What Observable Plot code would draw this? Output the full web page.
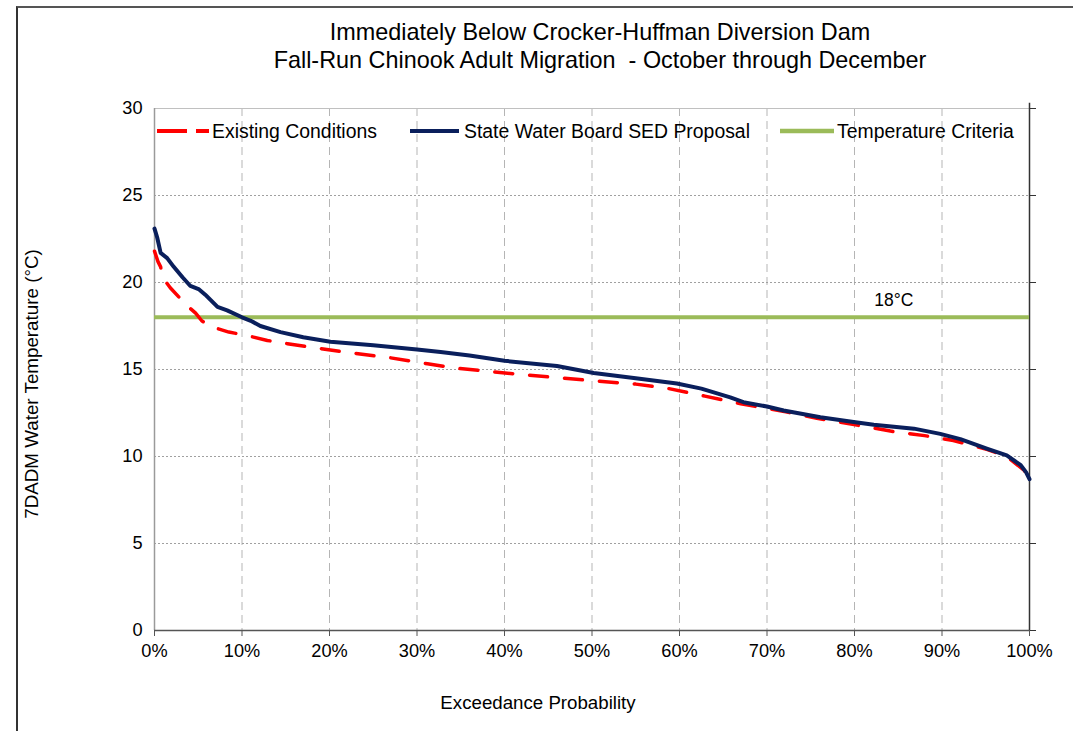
<!DOCTYPE html>
<html><head><meta charset="utf-8">
<script src="https://cdn.jsdelivr.net/npm/d3@7"></script>
<script src="https://cdn.jsdelivr.net/npm/@observablehq/plot@0.6"></script>
<style>
html,body{margin:0;padding:0;background:#fff;}
body{width:1073px;height:731px;overflow:hidden;position:relative;font-family:"Liberation Sans",Arial,sans-serif;color:#000;}
#frame{position:absolute;left:16px;top:6px;width:1100px;height:800px;border-left:2px solid #333;border-top:2px solid #555;}
#chart{position:absolute;left:0;top:0;}
.title{position:absolute;left:200px;width:800px;text-align:center;font-size:23.4px;line-height:28px;top:18px;}
.xlabel{position:absolute;left:338px;width:400px;text-align:center;top:692px;font-size:18.7px;line-height:22px;}
.ylabel{position:absolute;left:32px;top:384px;width:400px;margin-left:-200px;margin-top:-11px;text-align:center;font-size:18.8px;line-height:22px;transform:rotate(-90deg);}
.lg{position:absolute;top:121px;font-size:19.4px;line-height:20px;white-space:nowrap;}
.lg svg{position:absolute;top:0;}
</style>
</head><body>
<div id="frame"></div>
<div id="chart"></div>
<div class="title" id="title"></div>
<div class="xlabel" id="xlabel"></div>
<div class="ylabel" id="ylabel"></div>
<div id="legend"></div>
<script>
// ---- data ----
const titleLines = ["Immediately Below Crocker-Huffman Diversion Dam", "Fall-Run Chinook Adult Migration  - October through December"];
const xAxisTitle = "Exceedance Probability";
const yAxisTitle = "7DADM Water Temperature (°C)";
const xTicks = [0, 10, 20, 30, 40, 50, 60, 70, 80, 90, 100];
const yTicks = [0, 5, 10, 15, 20, 25, 30];
const seriesNames = ["Existing Conditions", "State Water Board SED Proposal", "Temperature Criteria"];

const sedProb = [0, 0.3, 0.7, 1.45, 2.2, 3.2, 4.1, 5.1, 5.8, 6.4, 7.2, 8.3, 10, 11, 12.1, 14.4, 17, 20.1, 25, 30, 32.7, 36, 40, 46, 50.2, 55, 59.7, 62.5, 65.8, 67.3, 70, 71.9, 76.1, 79.9, 82.2, 86.8, 89.8, 92.1, 95.2, 97.4, 99, 99.6, 100];
const sedTemp = [23.1, 22.6, 21.7, 21.4, 20.9, 20.3, 19.8, 19.6, 19.3, 19.0, 18.6, 18.4, 18.0, 17.8, 17.5, 17.15, 16.85, 16.6, 16.4, 16.15, 16.0, 15.8, 15.5, 15.2, 14.8, 14.5, 14.2, 13.9, 13.4, 13.12, 12.87, 12.64, 12.26, 11.98, 11.83, 11.6, 11.3, 11.0, 10.44, 10.06, 9.5, 9.1, 8.7];

const existingProb = [0, 0.4, 0.7, 0.9, 1.8, 3, 3.5, 4.7, 5.4, 6.4, 8.5, 10.6, 12.9, 15.2, 18.6, 21.3, 26.6, 31.2, 34, 38.6, 42.2, 46.8, 50.3, 55, 58.5, 62.9, 67, 72.3, 75.7, 81.6, 84.1, 88, 91.3, 95.2, 97.4, 99.4, 100];
const existingTemp = [21.8, 21.2, 20.9, 20.3, 19.7, 19.05, 18.77, 18.24, 17.8, 17.47, 17.15, 16.95, 16.67, 16.48, 16.23, 16.03, 15.7, 15.33, 15.1, 14.87, 14.7, 14.5, 14.35, 14.16, 13.93, 13.47, 13.03, 12.55, 12.2, 11.69, 11.46, 11.2, 10.92, 10.4, 10.0, 9.2, 8.7];

const criteriaTemp = [18];
const criteriaLabelProb = [84.5];

// ---- build ----
const sed = sedProb.map((p, i) => ({p, t: sedTemp[i]}));
const existing = existingProb.map((p, i) => ({p, t: existingTemp[i]}));
const criteriaLabel = criteriaTemp.map((t, i) => ({p: criteriaLabelProb[i], t, s: t + "°C"}));

const colors = {existing: "#ff0000", sed: "#0a1f5c", criteria: "#9bbb59"};
const font = '"Liberation Sans", Arial, sans-serif';

const chart = Plot.plot({
  width: 1073, height: 731,
  marginLeft: 154, marginRight: 44, marginTop: 108, marginBottom: 101,
  style: {fontFamily: font, fontSize: "18px", background: "transparent", color: "#000", overflow: "visible"},
  x: {domain: [0, 100]},
  y: {domain: [0, 30]},
  marks: [
    Plot.gridX(xTicks.slice(1, -1), {stroke: "#b5b5b5", strokeOpacity: 1, strokeDasharray: "8,5"}),
    Plot.gridY(yTicks.slice(1, -1), {stroke: "#a0a0a0", strokeOpacity: 1, strokeDasharray: "2,2"}),
    Plot.ruleY([30], {stroke: "#c0c0c0"}),
    Plot.ruleX([0], {stroke: "#9a9a9a", strokeWidth: 1.5}),
    Plot.ruleX([100], {stroke: "#333", strokeWidth: 1.5, y1: 0, y2: 30.3}),
    Plot.ruleY([0], {stroke: "#555", strokeWidth: 1.5}),
    Plot.axisX(xTicks, {tickSize: 6, tickPadding: 8, tickFormat: d => d + "%", stroke: "#555", label: null, fontSize: 18.2}),
    Plot.axisY(yTicks, {tickSize: 0, tickPadding: 12, label: null, fontSize: 18.2}),
    Plot.axisY(yTicks, {anchor: "right", tickSize: 6, tickFormat: () => "", label: null, stroke: "#333"}),
    Plot.ruleY(criteriaTemp, {stroke: colors.criteria, strokeWidth: 4}),
    Plot.text(criteriaLabel, {x: "p", y: "t", text: "s", dy: -17, fontSize: 17.5}),
    Plot.line(existing, {x: "p", y: "t", stroke: colors.existing, strokeWidth: 3.5, strokeDasharray: "18,17", strokeLinecap: "round", strokeLinejoin: "round"}),
    Plot.line(sed, {x: "p", y: "t", stroke: colors.sed, strokeWidth: 4, strokeLinejoin: "round", strokeLinecap: "round"})
  ]
});
document.getElementById("chart").appendChild(chart);

document.getElementById("title").innerHTML = titleLines.map(s => `<div>${s.replace(/  /g, " &nbsp;")}</div>`).join("");
document.getElementById("xlabel").textContent = xAxisTitle;
document.getElementById("ylabel").textContent = yAxisTitle;

// legend (inside plot area, as in the original)
const legendLayout = [
  {sx: 155, sw: 56, tx: 212, color: colors.existing, dash: "30,9", w: 4},
  {sx: 408, sw: 53, tx: 464, color: colors.sed, dash: null, w: 4},
  {sx: 778, sw: 58, tx: 837, color: colors.criteria, dash: null, w: 4.5}
];
const lg = document.getElementById("legend");
seriesNames.forEach((name, i) => {
  const L = legendLayout[i];
  const sample = document.createElement("div");
  sample.className = "lg";
  sample.style.left = L.sx + "px";
  sample.innerHTML = `<svg width="${L.sw}" height="20" style="left:0"><line x1="2" x2="${L.sw - 2}" y1="10" y2="10" stroke="${L.color}" stroke-width="${L.w}" ${L.dash ? `stroke-dasharray="${L.dash}"` : ""} stroke-linecap="butt"/></svg>`;
  lg.appendChild(sample);
  const t = document.createElement("div");
  t.className = "lg";
  t.style.left = L.tx + "px";
  t.textContent = name;
  lg.appendChild(t);
});
</script>
</body></html>
